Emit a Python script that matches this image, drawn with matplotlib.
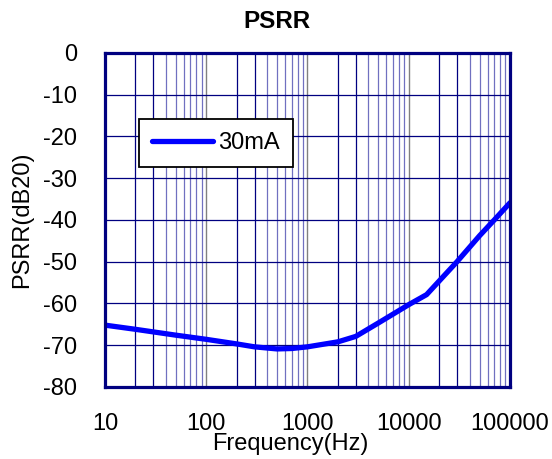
import numpy as np
import matplotlib
matplotlib.use('Agg')
import matplotlib.pyplot as plt

plt.rcParams['font.family'] = ['Liberation Sans', 'DejaVu Sans']

# data
freq = [10, 20, 50, 100, 200, 300, 500, 700, 1000, 2000, 3000, 5000,
        10000, 15000, 30000, 50000, 70000, 100000]
psrr = [-65.2, -66.2, -67.6, -68.6, -69.7, -70.4, -70.9, -70.8, -70.4, -69.2,
        -67.9, -64.7, -60.3, -57.9, -50.0, -43.8, -40.0, -35.9]
series_label = '30mA'
yticks = list(range(-80, 1, 10))
xticks = [10, 100, 1000, 10000, 100000]


def main():
    fig = plt.figure(figsize=(5.52, 4.59), dpi=100)
    ax = fig.add_axes([0.190, 0.157, 0.734, 0.728])

    ax.set_xscale('log')
    ax.set_xlim(10, 100000)
    ax.set_ylim(-80, 0)

    # grid: decades gray, 2 and 3 navy, 4..9 light blue
    for dec in [10, 100, 1000, 10000]:
        for m in range(1, 10):
            x = dec * m
            if m == 1:
                c, lw = '#808080', 1.0
            elif m <= 3:
                c, lw = '#000080', 0.9
            else:
                c, lw = '#7070c0', 0.9
            ax.axvline(x, color=c, lw=lw, zorder=1)
    for y in yticks:
        ax.axhline(y, color='#000080', lw=0.9, zorder=1)

    ax.plot(freq, psrr, color='#0000ff', lw=3.8, label=series_label,
            solid_capstyle='round', zorder=3)

    ax.set_xticks(xticks)
    ax.set_xticklabels([str(x) for x in xticks])
    ax.xaxis.set_minor_locator(matplotlib.ticker.NullLocator())
    ax.set_yticks(yticks)
    ax.set_yticklabels([str(y) for y in yticks])
    ax.tick_params(axis='x', length=0, pad=19, labelsize=17)
    ax.tick_params(axis='y', length=0, pad=20, labelsize=17)

    for s in ax.spines.values():
        s.set_color('#000080')
        s.set_linewidth(2.3)
        s.set_zorder(4)

    ax.set_xlabel('Frequency(Hz)', fontsize=17, va='center')
    ax.xaxis.set_label_coords(0.457, -0.17)
    ax.set_ylabel('PSRR(dB20)', fontsize=17, va='center')
    ax.yaxis.set_label_coords(-0.205, 0.5)

    fig.text(277 / 552, 1 - 21 / 459, 'PSRR', fontsize=17.5, fontweight='bold',
             ha='center', va='center')

    leg = ax.legend(loc='upper left', bbox_to_anchor=(0.084, 0.802),
                    borderaxespad=0, fontsize=17, fancybox=False,
                    framealpha=1, edgecolor='black', handlelength=2.6,
                    handletextpad=0.2, borderpad=0.55)
    leg.get_frame().set_linewidth(1.3)
    leg.set_zorder(5)

    plt.savefig('out.png', dpi=100)


main()
